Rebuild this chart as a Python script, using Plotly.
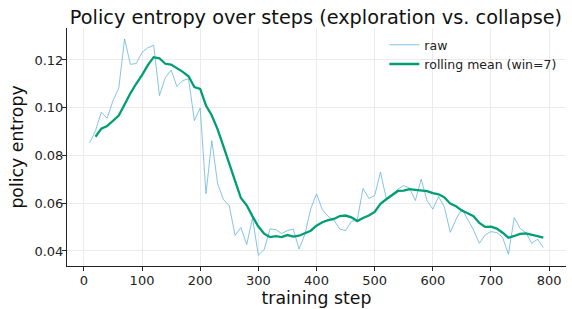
import pandas as pd
import plotly.graph_objects as go

steps = list(range(10, 800, 10))
raw_entropy = [
    0.0853, 0.0904, 0.0981, 0.0956, 0.1029, 0.1082, 0.1288, 0.1182, 0.1185, 0.1232,
    0.1251, 0.1262, 0.1051, 0.1126, 0.1158, 0.1089, 0.1114, 0.1121, 0.0946, 0.0999,
    0.0640, 0.0862, 0.0682, 0.0615, 0.0590, 0.0465, 0.0498, 0.0427, 0.0538, 0.0382,
    0.0406, 0.0492, 0.0490, 0.0473, 0.0485, 0.0492, 0.0408, 0.0469, 0.0576, 0.0639,
    0.0573, 0.0545, 0.0529, 0.0492, 0.0485, 0.0524, 0.0529, 0.0662, 0.0620, 0.0632,
    0.0730, 0.0620, 0.0636, 0.0659, 0.0674, 0.0663, 0.0611, 0.0701, 0.0611, 0.0575,
    0.0628, 0.0583, 0.0478, 0.0533, 0.0576, 0.0533, 0.0488, 0.0432, 0.0467, 0.0481,
    0.0477, 0.0457, 0.0386, 0.0540, 0.0494, 0.0477, 0.0432, 0.0449, 0.0414,
]
window = 7
rolling_entropy = pd.Series(raw_entropy).rolling(window, min_periods=2).mean()

x_ticks = [0, 100, 200, 300, 400, 500, 600, 700, 800]
y_ticks = [0.04, 0.06, 0.08, 0.10, 0.12]
y_tick_labels = ["0.04", "0.06", "0.08", "0.10", "0.12"]

FONT = "DejaVu Sans"

fig = go.Figure()
fig.add_trace(go.Scatter(
    x=steps, y=raw_entropy, mode="lines", name="raw",
    line=dict(color="rgba(86,172,222,0.72)", width=1),
))
fig.add_trace(go.Scatter(
    x=steps, y=rolling_entropy, mode="lines", name=f"rolling mean (win={window})",
    line=dict(color="#009E73", width=2.3),
))

axis_common = dict(
    showgrid=True, gridcolor="#ebebeb", gridwidth=0.8,
    showline=True, linecolor="#222222", linewidth=1,
    ticks="outside", ticklen=4, tickwidth=1, tickcolor="#222222",
    zeroline=False, mirror=False, automargin=False,
    tickfont=dict(family=FONT, size=13, color="#222222"),
)

L, R, T, B = 67, 6, 28, 43

fig.update_layout(
    width=572, height=309,
    margin=dict(l=L, r=R, t=T, b=B),
    paper_bgcolor="white", plot_bgcolor="white",
    font=dict(family=FONT, color="#111111"),
    title=dict(
        text="Policy entropy over steps (exploration vs. collapse)",
        x=316 / 572, xanchor="center", y=1 - 17 / 309, yanchor="middle",
        font=dict(family=FONT, size=19.3, color="#111111"),
    ),
    xaxis=dict(
        range=[-29, 829], tickvals=x_ticks, ticktext=[str(t) for t in x_ticks],
        ticklabelstandoff=-2,
        title=dict(text="training step", font=dict(family=FONT, size=17.3), standoff=4),
        **axis_common,
    ),
    yaxis=dict(
        range=[0.0337, 0.1334], tickvals=y_ticks, ticktext=y_tick_labels,
        ticklabelstandoff=-4,
        title=dict(text="policy entropy", font=dict(family=FONT, size=17.3), standoff=6),
        **axis_common,
    ),
    legend=dict(
        x=0.636, y=0.991, xanchor="left", yanchor="top",
        bgcolor="rgba(0,0,0,0)", borderwidth=0,
        font=dict(family=FONT, size=12.5, color="#222222"),
        tracegroupgap=0, itemwidth=30,
    ),
    showlegend=True,
)

fig.write_html(
    "out.html",
    config={"displayModeBar": False},
    post_script="document.body.style.margin='0';document.body.style.overflow='hidden';",
)
